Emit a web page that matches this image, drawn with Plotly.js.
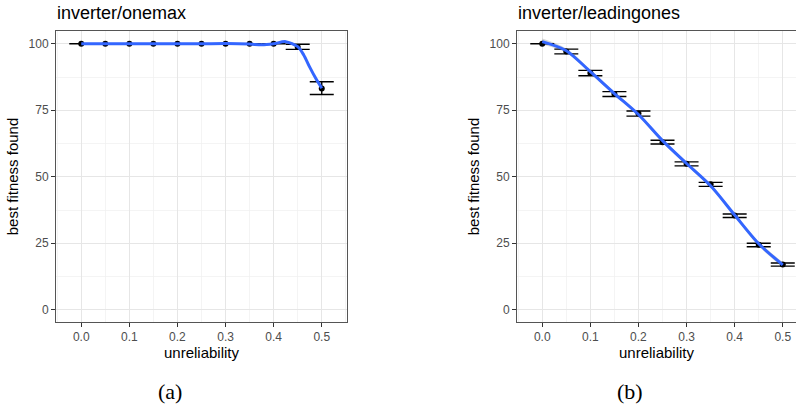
<!DOCTYPE html>
<html>
<head>
<meta charset="utf-8">
<script src="https://cdn.plot.ly/plotly-3.0.1.min.js"></script>
<style>
  html, body { margin: 0; padding: 0; background: #ffffff; }
  #chart { width: 796px; height: 407px; }
</style>
</head>
<body>
<div id="chart"></div>
<script>
// ---- data ----
const unreliability = [0, 0.05, 0.1, 0.15, 0.2, 0.25, 0.3, 0.35, 0.4, 0.45, 0.5];

// (a) inverter/onemax
const onemaxMean     = [100, 100, 100, 100, 100, 100, 100, 100, 100, 98.8, 83.2];
const onemaxErrPlus  = [0, 0, 0, 0, 0, 0, 0, 0, 0, 1.0, 2.5];
const onemaxErrMinus = [0, 0, 0, 0, 0, 0, 0, 0, 0, 0.9, 2.3];
const onemaxSmoothX  = [0, 0.05, 0.1, 0.15, 0.2, 0.25, 0.3, 0.35, 0.375, 0.4, 0.425, 0.45, 0.4625, 0.475, 0.4875, 0.5];
const onemaxSmoothY  = [100, 100, 100, 100, 100, 100, 100.1, 99.9, 99.6, 100, 100.8, 98.9, 95.8, 91.2, 87.0, 83.3];

// (b) inverter/leadingones
const leadingMean     = [100, 97.1, 89.0, 81.1, 73.8, 63.0, 54.9, 47.2, 35.4, 24.4, 17.0];
const leadingErrPlus  = [0, 0.9, 1.0, 0.9, 0.9, 0.7, 0.7, 0.7, 0.6, 0.6, 0.6];
const leadingErrMinus = [0, 0.9, 1.0, 0.9, 1.0, 0.7, 0.8, 0.8, 0.7, 0.7, 0.6];
const leadingSmoothX  = [0, 0.05, 0.1, 0.15, 0.2, 0.25, 0.3, 0.35, 0.4, 0.45, 0.5];
const leadingSmoothY  = [100.8, 97.4, 89.5, 81.3, 73.4, 63.6, 55.0, 46.6, 35.6, 24.8, 16.9];
const leadingBandUp   = [102.0, 98.2, 90.2, 82.0, 74.1, 64.3, 55.7, 47.3, 36.3, 25.6, 17.9];
const leadingBandLow  = [99.6, 96.6, 88.8, 80.6, 72.7, 62.9, 54.3, 45.9, 34.9, 24.0, 15.9];

const panelTitles = ['inverter/onemax', 'inverter/leadingones'];
const captions = ['(a)', '(b)'];
const xTicks = [0, 0.1, 0.2, 0.3, 0.4, 0.5];
const yTicks = [0, 25, 50, 75, 100];

// ---- styling ----
const W = 796, H = 407;
const blue = '#3366FF';
const sans = 'Liberation Sans, Arial, sans-serif';
const errStyle = (plus, minus) => ({
  type: 'data', symmetric: false, array: plus, arrayminus: minus,
  color: '#000000', thickness: 1.4, width: 12, visible: true
});

const traces = [
  // panel a
  { x: unreliability, y: onemaxMean, xaxis: 'x', yaxis: 'y', type: 'scatter', mode: 'markers',
    marker: { color: '#000000', size: 6 }, error_y: errStyle(onemaxErrPlus, onemaxErrMinus),
    showlegend: false },
  { x: onemaxSmoothX, y: onemaxSmoothY, xaxis: 'x', yaxis: 'y', type: 'scatter', mode: 'lines',
    line: { color: blue, width: 3, shape: 'spline', smoothing: 0.8 }, showlegend: false },
  // panel b band
  { x: leadingSmoothX, y: leadingBandLow, xaxis: 'x2', yaxis: 'y2', type: 'scatter', mode: 'lines',
    line: { width: 0, shape: 'spline' }, showlegend: false, hoverinfo: 'skip' },
  { x: leadingSmoothX, y: leadingBandUp, xaxis: 'x2', yaxis: 'y2', type: 'scatter', mode: 'lines',
    line: { width: 0, shape: 'spline' }, fill: 'tonexty', fillcolor: 'rgba(153,153,153,0.4)',
    showlegend: false, hoverinfo: 'skip' },
  { x: unreliability, y: leadingMean, xaxis: 'x2', yaxis: 'y2', type: 'scatter', mode: 'markers',
    marker: { color: '#000000', size: 6 }, error_y: errStyle(leadingErrPlus, leadingErrMinus),
    showlegend: false },
  { x: leadingSmoothX, y: leadingSmoothY, xaxis: 'x2', yaxis: 'y2', type: 'scatter', mode: 'lines',
    line: { color: blue, width: 3, shape: 'spline', smoothing: 0.8 }, showlegend: false }
];

const px = v => v / W;
const py = v => 1 - v / H;

const xCommon = {
  tickmode: 'array', tickvals: xTicks, tickformat: '.1f',
  ticks: 'outside', ticklen: 4, tickcolor: '#333333', tickwidth: 1,
  tickfont: { family: sans, size: 12, color: '#4D4D4D' },
  showgrid: true, gridcolor: '#E6E6E6', gridwidth: 1.2,
  minor: { dtick: 0.05, tick0: 0, showgrid: true, gridcolor: '#EFEFEF', gridwidth: 0.7 },
  zeroline: false, showline: true, linecolor: '#555555', linewidth: 1, mirror: true,
  automargin: false, fixedrange: true,
  title: { text: 'unreliability', standoff: 4,
           font: { family: sans, size: 15, color: '#000000' } }
};
const yCommon = {
  range: [-4.6, 104.8], tickmode: 'array', tickvals: yTicks,
  ticks: 'outside', ticklen: 4, tickcolor: '#333333', tickwidth: 1,
  tickfont: { family: sans, size: 12, color: '#4D4D4D' },
  showgrid: true, gridcolor: '#E6E6E6', gridwidth: 1.2,
  minor: { dtick: 12.5, tick0: 0, showgrid: true, gridcolor: '#EFEFEF', gridwidth: 0.7 },
  zeroline: false, showline: true, linecolor: '#555555', linewidth: 1,
  automargin: false, fixedrange: true,
  domain: [py(322), py(31)],
  title: { text: 'best fitness found', standoff: 6,
           font: { family: sans, size: 15, color: '#000000' } }
};

const layout = {
  width: W, height: H,
  margin: { l: 0, r: 0, t: 0, b: 0 },
  paper_bgcolor: '#ffffff', plot_bgcolor: '#ffffff',
  showlegend: false,
  xaxis: Object.assign({}, xCommon, { domain: [px(56), px(347)], range: [-0.0525, 0.5525], anchor: 'y' }),
  yaxis: Object.assign({}, yCommon, { anchor: 'x', mirror: true }),
  xaxis2: Object.assign({}, xCommon, { domain: [px(517), 1], range: [-0.0525, 0.5275], anchor: 'y2', mirror: true }),
  yaxis2: Object.assign({}, yCommon, { anchor: 'x2', mirror: false }),
  annotations: [
    { text: panelTitles[0], xref: 'paper', yref: 'paper', x: px(55), y: py(13),
      xanchor: 'left', yanchor: 'middle', showarrow: false,
      font: { family: sans, size: 18, color: '#000000' } },
    { text: panelTitles[1], xref: 'paper', yref: 'paper', x: px(516), y: py(13),
      xanchor: 'left', yanchor: 'middle', showarrow: false,
      font: { family: sans, size: 18, color: '#000000' } },
    { text: captions[0], xref: 'paper', yref: 'paper', x: px(170), y: py(391),
      xanchor: 'center', yanchor: 'middle', showarrow: false,
      font: { family: 'Liberation Serif, Times New Roman, serif', size: 22, color: '#000000' } },
    { text: captions[1], xref: 'paper', yref: 'paper', x: px(630), y: py(391),
      xanchor: 'center', yanchor: 'middle', showarrow: false,
      font: { family: 'Liberation Serif, Times New Roman, serif', size: 22, color: '#000000' } }
  ]
};

Plotly.newPlot('chart', traces, layout, { displayModeBar: false, staticPlot: true });
</script>
</body>
</html>
